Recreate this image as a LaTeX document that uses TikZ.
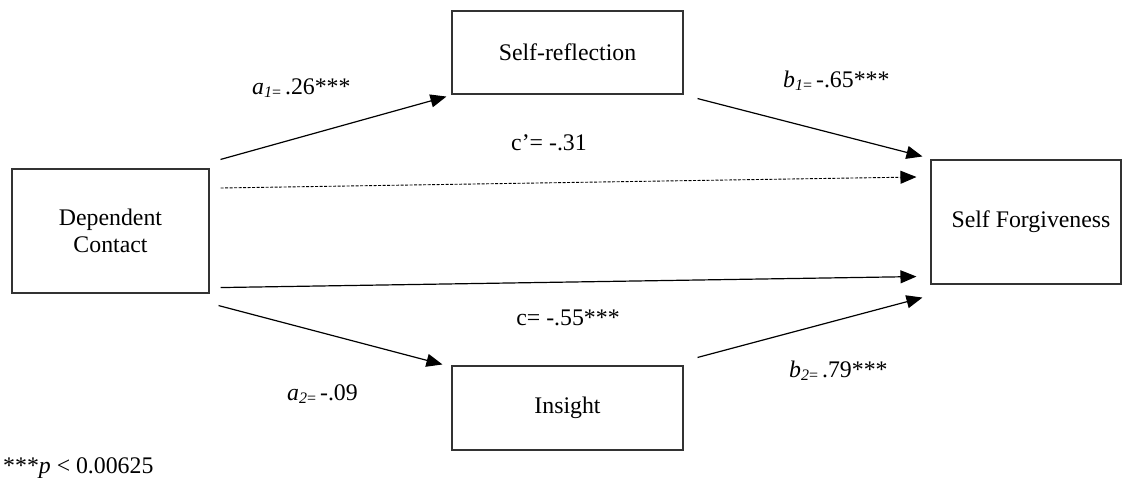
\documentclass[tikz,border=0pt]{standalone}
\usepackage{fontspec}
\setmainfont{Liberation Serif}
\usetikzlibrary{arrows.meta}
\newcommand{\coefl}[3]{\textit{#1}\raisebox{-3pt}{\fontsize{16}{16}\selectfont\textit{#2}=}\,#3}
\tikzset{
  box/.style={draw=black!80, line width=1.1pt, fill=white, align=center, inner sep=0pt},
  arr/.style={line width=1.2pt, -{Triangle[length=16pt,width=13pt]}},
  darr/.style={line width=0.9pt, dash pattern=on 3pt off 1.5pt, -{Triangle[length=16pt,width=13pt]}},
  lab/.style={inner sep=0pt}
}
\begin{document}
\begin{tikzpicture}[x=1pt,y=-1pt,font=\fontsize{23.8}{27}\selectfont]
\useasboundingbox (0,0) rectangle (1123,477);
\node[box, minimum width=197pt, minimum height=124pt] (dep) at (110.5,231) {Dependent\\Contact};
\node[box, minimum width=231pt, minimum height=83pt] (sr) at (567.5,52.5) {Self-reflection};
\node[box, minimum width=231pt, minimum height=84pt] (ins) at (567.5,408) {Insight};
\node[box, minimum width=190pt, minimum height=124pt] (sf) at (1026,222) {\hspace{10pt}Self Forgiveness};

\draw[arr] ([shift={(11,-9)}]dep.north east) -- ([shift={(-5,2)}]sr.south west);
\draw[arr] ([shift={(14,4)}]sr.south east) -- ([shift={(-8,-3)}]sf.north west);
\draw[darr] ([shift={(11,-43)}]dep.east) -- ([shift={(-14,-45)}]sf.west);
\draw[arr] ([shift={(11,-6)}]dep.south east) -- ([shift={(-14,-8)}]sf.south west);
\draw[arr] ([shift={(9,12)}]dep.south east) -- ([shift={(-9,-1)}]ins.north west);
\draw[arr] ([shift={(14,-8)}]ins.north east) -- ([shift={(-8,13)}]sf.south west);

\node[lab, anchor=base west] (la1) at (252,94) {\coefl{a}{1}{.26***}};
\node[lab, anchor=base west] (lb1) at (783,87) {\coefl{b}{1}{-.65***}};
\node[lab, anchor=base] (lcp) at (549,150) {c’= -.31};
\node[lab, anchor=base] (lc) at (568,325) {c= -.55***};
\node[lab, anchor=base west] (la2) at (287,400) {\coefl{a}{2}{-.09}};
\node[lab, anchor=base west] (lb2) at (789,377) {\coefl{b}{2}{.79***}};
\node[lab, anchor=base west] (note) at (3,473) {***\textit{p} < 0.00625};
\end{tikzpicture}
\end{document}
